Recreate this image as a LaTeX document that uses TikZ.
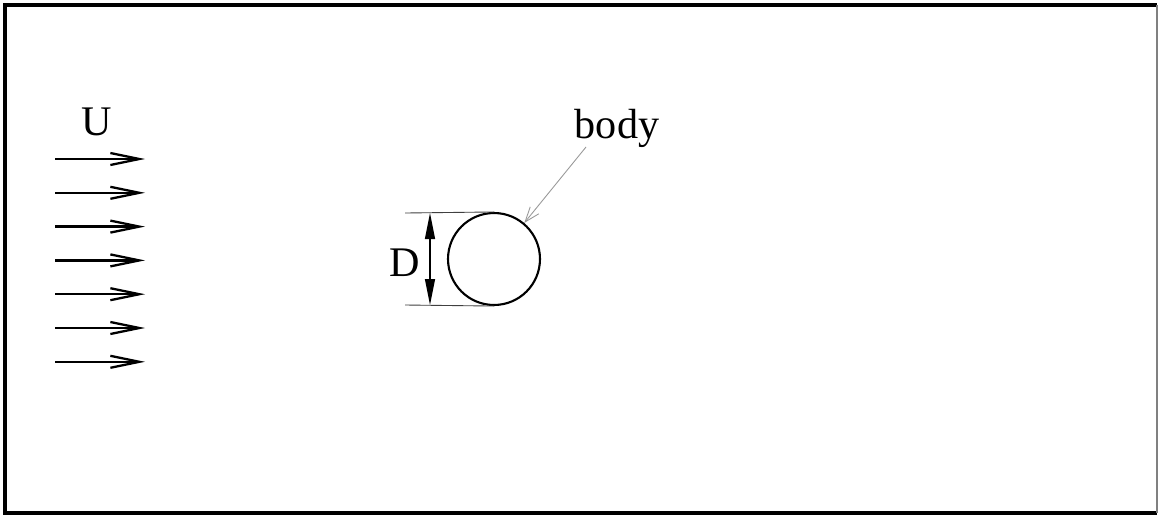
\documentclass[tikz,border=0pt]{standalone}
\usepackage{fontspec}
\setmainfont{Liberation Serif}
\usetikzlibrary{arrows.meta}
\begin{document}
\begin{tikzpicture}[x=0.02cm,y=-0.02cm,
  lbl/.style={font=\fontsize{24}{28}\selectfont, inner sep=0pt},
  flow/.style={line width=1.3pt, -{Straight Barb[length=0.58cm,width=0.24cm,line width=1.3pt]}},
  thinline/.style={line width=0.5pt, black!75},
  dimarrow/.style={line width=0.7pt, {Triangle[length=0.52cm,width=0.2cm]}-{Triangle[length=0.52cm,width=0.2cm]}},
  leader/.style={line width=0.5pt, gray!80, -{Straight Barb[length=0.3cm,width=0.22cm,line width=0.5pt]}}]
\useasboundingbox (0,0) rectangle (1159,518);
\fill[white] (0,0) rectangle (1159,518);
% frame
\draw[line width=1.8pt] (1157,5) -- (5,5) -- (5,513) -- (1157,513);
\draw[line width=0.6pt, gray] (1157,5) -- (1157,513);
% flow arrows
\node[lbl] (U) at (97,122) {U};
\foreach \i in {0,...,6} {
  \coordinate (a\i) at (55,{159+33.8*\i});
  \coordinate (b\i) at (145,{159+33.8*\i});
  \draw[flow] (a\i) -- (b\i);
}
% body
\node[draw, circle, line width=1.2pt, minimum size=1.84cm, inner sep=0pt] (body) at (494,259) {};
\coordinate (e1) at (405,213);
\coordinate (e2) at (405,305);
\draw[thinline] (e1) -- (body.north);
\draw[thinline] (e2) -- (body.south);
\coordinate (d1) at (430,213);
\coordinate (d2) at (430,305);
\draw[dimarrow] (d1) -- (d2);
\node[lbl] (D) at (405,263) {D};
\node[lbl] (bodylbl) at (617,128) {body};
\coordinate (l1) at (586,147);
\draw[leader] (l1) -- (body.50);
\end{tikzpicture}
\end{document}
